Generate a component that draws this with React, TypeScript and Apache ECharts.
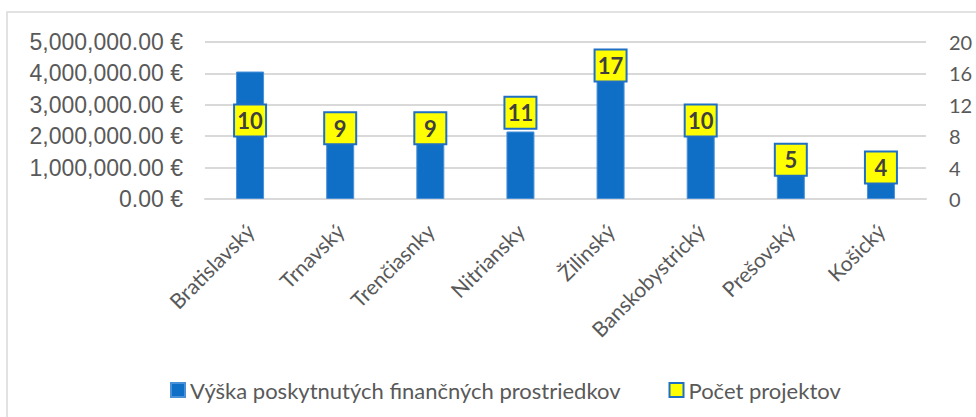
import React, { useEffect, useRef } from "react";
import * as echarts from "echarts";

const categories = [
  "Bratislavský",
  "Trnavský",
  "Trenčiasnky",
  "Nitriansky",
  "Žilinský",
  "Banskobystrický",
  "Prešovský",
  "Košický",
];
const fundingValues = [4060000, 2500000, 2300000, 2150000, 4300000, 2500000, 1200000, 1000000];
const projectCounts = [10, 9, 9, 11, 17, 10, 5, 4];
const seriesNames = ["Výška poskytnutých finančných prostriedkov", "Počet projektov"];

const fmtEuro = (v: number) =>
  v.toFixed(2).replace(/\B(?=(\d{3})+(?!\d))/g, ",") + " €";

export default function App() {
  const ref = useRef<HTMLDivElement>(null);
  useEffect(() => {
    if (!ref.current) return;
    const chart = echarts.init(ref.current, null, { renderer: "svg" });
    chart.setOption({
      animation: false,
      backgroundColor: "#ffffff",
      graphic: [
        {
          type: "rect",
          shape: { x: 7, y: 12, width: 1100, height: 600 },
          style: { fill: "none", stroke: "#d9d9d9", lineWidth: 1.5 },
          silent: true,
        },
      ],
      grid: { left: 205, right: 50, top: 42, bottom: 218, containLabel: false },
      legend: {
        left: 165,
        top: 374,
        itemWidth: 14,
        itemHeight: 14,
        itemGap: 48,
        textStyle: { fontFamily: "Lato", fontSize: 22, color: "#595959" },
        data: [
          { name: seriesNames[0], icon: "rect" },
          { name: seriesNames[1], icon: "rect" },
        ],
      },
      xAxis: {
        type: "category",
        data: categories,
        axisTick: { show: false },
        axisLine: { lineStyle: { color: "#d9d9d9", width: 2 } },
        axisLabel: {
          rotate: 45,
          interval: 0,
          margin: 28,
          fontFamily: "Lato",
          fontSize: 21,
          color: "#595959",
        },
      },
      yAxis: [
        {
          type: "value",
          min: 0,
          max: 5000000,
          interval: 1000000,
          axisLine: { show: false },
          axisTick: { show: false },
          splitLine: { lineStyle: { color: "#d9d9d9", width: 2 } },
          axisLabel: {
            formatter: fmtEuro,
            margin: 22,
            fontFamily: "Liberation Sans",
            fontSize: 23,
            color: "#595959",
          },
        },
        {
          type: "value",
          min: 0,
          max: 20,
          interval: 4,
          axisLine: { show: false },
          axisTick: { show: false },
          splitLine: { show: false },
          axisLabel: {
            margin: 23,
            fontFamily: "Lato",
            fontSize: 20,
            color: "#595959",
          },
        },
      ],
      series: [
        {
          name: seriesNames[0],
          type: "bar",
          yAxisIndex: 0,
          data: fundingValues,
          barWidth: 28,
          itemStyle: { color: "#0F6FC6", borderColor: "#4A90D9", borderWidth: 1 },
          emphasis: { disabled: true },
          z: 2,
        },
        {
          name: seriesNames[1],
          type: "line",
          yAxisIndex: 1,
          data: projectCounts,
          symbol: "rect",
          symbolSize: [32, 32],
          lineStyle: { width: 0, opacity: 0 },
          itemStyle: { color: "#FFFF00", borderColor: "#1F6FC5", borderWidth: 2 },
          label: {
            show: true,
            position: "inside",
            fontFamily: "Lato",
            fontWeight: "bold",
            fontSize: 22,
            color: "#404040",
          },
          emphasis: { disabled: true },
          z: 5,
        },
      ],
    });
    return () => chart.dispose();
  }, []);
  return (
    <div
      ref={ref}
      style={{ position: "fixed", left: 0, top: 0, width: 976, height: 417 }}
    />
  );
}
